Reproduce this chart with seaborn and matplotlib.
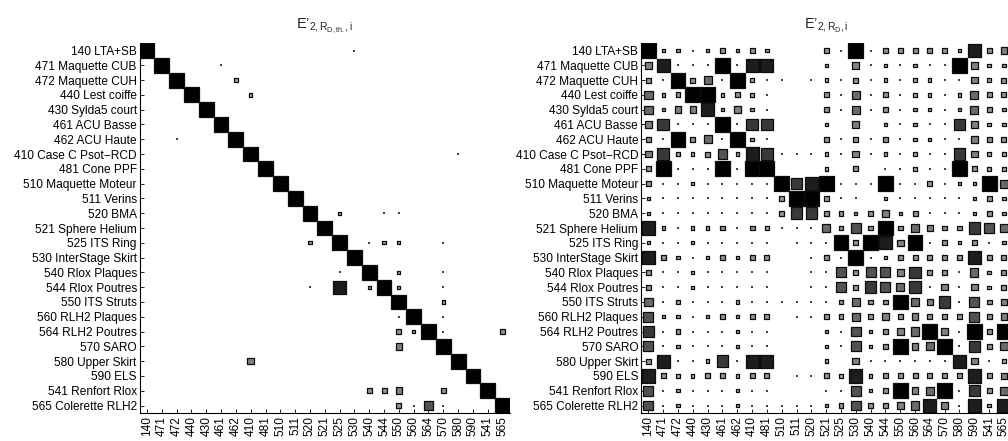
import numpy as np
import pandas as pd
import matplotlib
matplotlib.use('Agg')
import matplotlib.pyplot as plt
import seaborn as sns

sns.set_style('white')
plt.rcParams['font.family'] = ['Liberation Sans', 'DejaVu Sans']
plt.rcParams['mathtext.fontset'] = 'custom'
plt.rcParams['mathtext.rm'] = 'Liberation Sans'
plt.rcParams['mathtext.it'] = 'Liberation Sans'
plt.rcParams['mathtext.default'] = 'regular'

names = ['140 LTA+SB', '471 Maquette CUB', '472 Maquette CUH', '440 Lest coiffe',
         '430 Sylda5 court', '461 ACU Basse', '462 ACU Haute', '410 Case C Psot\u2212RCD',
         '481 Cone PPF', '510 Maquette Moteur', '511 Verins', '520 BMA',
         '521 Sphere Helium', '525 ITS Ring', '530 InterStage Skirt', '540 Rlox Plaques',
         '544 Rlox Poutres', '550 ITS Struts', '560 RLH2 Plaques', '564 RLH2 Poutres',
         '570 SARO', '580 Upper Skirt', '590 ELS', '541 Renfort Rlox', '565 Colerette RLH2']
codes = ['140', '471', '472', '440', '430', '461', '462', '410', '481', '510', '511', '520',
         '521', '525', '530', '540', '544', '550', '560', '564', '570', '580', '590', '541', '565']

# values, 0..9 (9 = full black square)
e_theo = [
    '90000 00000 00001 00000 00000',
    '09000 10000 00000 00000 00000',
    '00900 02000 00000 00000 00000',
    '00090 00200 00000 00000 00000',
    '00009 00000 00000 00000 00000',
    '00000 90000 00000 00000 00000',
    '00100 09000 00000 00000 00000',
    '00000 00900 00000 00000 01000',
    '00000 00090 00000 00000 00000',
    '00000 00009 00000 00000 00000',
    '00000 00000 90000 00000 00000',
    '00000 00000 09020 01100 00000',
    '00000 00000 00900 00000 00000',
    '00000 00000 02090 12200 10000',
    '00000 00000 00009 00000 00000',
    '00000 00000 00010 90200 10000',
    '00000 00000 01080 29200 10000',
    '00000 00000 00000 00900 20000',
    '00000 00000 00000 00190 10000',
    '00000 00000 00000 00329 10003',
    '00000 00000 00000 00400 90000',
    '00000 00400 00000 00000 09000',
    '00000 00000 00000 00000 00900',
    '00000 00000 00000 33400 30090',
    '00000 00000 00000 00316 10009',
]
e_meas = [
    '92212 32320 00319 13333 32834',
    '48111 91880 00204 12121 19422',
    '31935 19211 01213 12122 11423',
    '52399 23210 00315 13122 12533',
    '52448 24210 00315 13122 12532',
    '47111 91770 00204 02121 17422',
    '31935 19210 00313 13122 11433',
    '47223 62871 11214 12121 17422',
    '39111 91990 00203 01121 19322',
    '31121 11119 78911 19113 12295',
    '21111 11113 99311 02111 11232',
    '21111 11113 77332 34231 11232',
    '82122 31321 11536 39354 33765',
    '21121 11110 11193 98491 32312',
    '83212 32330 01319 12333 33833',
    '31121 11110 01163 66473 31523',
    '31121 11110 01163 76571 41423',
    '51211 12111 11135 33954 71634',
    '62212 32330 11335 34343 33634',
    '71311 12110 00216 23459 41939',
    '61211 12110 00216 23945 91735',
    '38112 71880 00204 11111 18412',
    '83223 32330 11328 23333 33834',
    '61211 12110 00116 23945 91735',
    '61211 12111 11236 33458 41828',
]


def to_frame(rows):
    recs = []
    for i, r in enumerate(rows):
        r = r.replace(' ', '')
        for j, ch in enumerate(r):
            d = int(ch)
            if d > 0:
                recs.append((j, i, d))
    return pd.DataFrame(recs, columns=['col', 'row', 'd'])


def hinton(ax, rows, title):
    df = to_frame(rows)
    cell_pt = ax.get_window_extent().width / len(codes) * 72 / ax.figure.dpi
    amax = cell_pt ** 2
    df['v'] = df['d'] / 9.0
    df['area'] = (df['v'] * cell_pt) ** 2
    # grey level of the fill: light for small squares, black for full ones
    df['g'] = 0.72 * (1 - df['v'] ** 1.5)
    big = df[df['d'] >= 2]
    tiny = df[df['d'] == 1]
    sns.scatterplot(data=tiny, x='col', y='row', color='0.25', s=2.5, marker='s',
                    linewidth=0, legend=False, ax=ax)
    sns.scatterplot(data=big, x='col', y='row', hue='g', size='area', palette='gray',
                    hue_norm=(0, 1), sizes=(0, amax), size_norm=(0, amax), marker='s',
                    edgecolor='0.05', linewidth=0.9, legend=False, ax=ax)
    ax.set_xlim(-0.5, len(codes) - 0.5)
    ax.set_ylim(len(names) - 0.5, -0.5)
    ax.set_xticks(range(len(codes)))
    ax.set_xticklabels(codes, rotation=90)
    ax.set_yticks(range(len(names)))
    ax.set_yticklabels(names)
    ax.set_xlabel('')
    ax.set_ylabel('')
    ax.tick_params(direction='in', length=3, width=0.6, labelsize=8.6, pad=2,
                   bottom=True, left=True, colors='black')
    for s in ['top', 'right']:
        ax.spines[s].set_visible(False)
    for s in ['left', 'bottom']:
        ax.spines[s].set_color('black')
        ax.spines[s].set_linewidth(0.8)
    ax.set_title(title, fontsize=10.5, pad=10)


fig = plt.figure(figsize=(10.08, 4.41), dpi=100)
ax1 = fig.add_axes([0.1385, 0.0637, 0.3674, 0.8385])
ax2 = fig.add_axes([0.6359, 0.0637, 0.3674, 0.8385])
hinton(ax1, e_theo, "$E\u2019_{2,R_{D,th.},i}$")
hinton(ax2, e_meas, "$E\u2019_{2,R_{D},i}$")
fig.savefig('out.png', dpi=100)
